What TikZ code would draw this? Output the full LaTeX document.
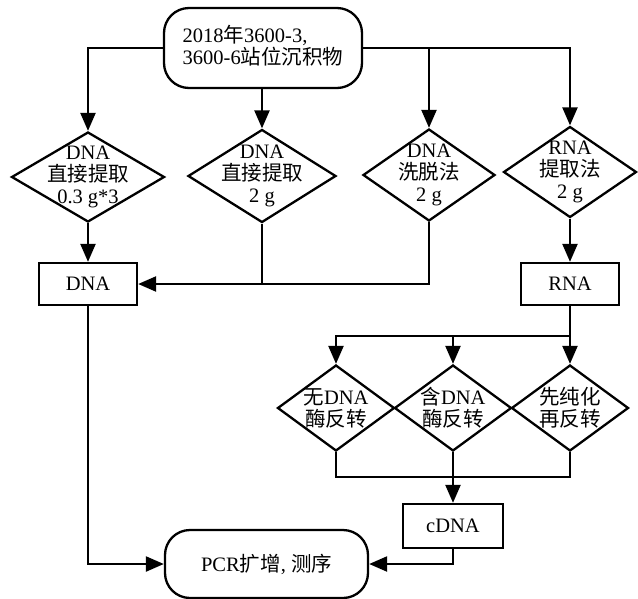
\documentclass[tikz,border=0pt]{standalone}
\usepackage{fontspec}
\setmainfont{Liberation Serif}
\newfontfamily\cjk{Noto Sans CJK SC}
\usetikzlibrary{shapes.geometric,arrows.meta}
\begin{document}
\begin{tikzpicture}[x=1pt,y=-1pt,
  line width=2.3pt,
  every node/.style={font=\fontsize{20.5}{22}\selectfont},
  term/.style={draw, rectangle, rounded corners=25pt, inner sep=0pt},
  box/.style={draw, rectangle, minimum width=98pt, minimum height=42pt, inner sep=0pt},
  dia/.style={draw, diamond, inner sep=0pt},
  lbl/.style={align=center, inner sep=0pt},
  arr/.style={-{Triangle[length=18pt,width=15pt]}}]
\path[use as bounding box] (0,0) rectangle (638,598);
% top terminal
\node[term, minimum width=198pt, minimum height=80pt] (top) at (263,48)
  {\begin{tabular}{@{}l@{}}2018{\cjk 年}3600-3,\\[-2pt]3600-6{\cjk 站位沉积物}\end{tabular}};
% first row diamonds
\node[dia, minimum width=153pt, minimum height=90pt] (d1) at (88,177) {};
\node[lbl] (t1) at (d1) {DNA\\{\cjk 直接提取}\\0.3 g*3};
\node[dia, minimum width=148pt, minimum height=93pt] (d2) at (262,176) {};
\node[lbl] (t2) at (d2) {DNA\\{\cjk 直接提取}\\2 g};
\node[dia, minimum width=132pt, minimum height=92pt] (d3) at (429,175) {};
\node[lbl] (t3) at (d3) {DNA\\{\cjk 洗脱法}\\2 g};
\node[dia, minimum width=133pt, minimum height=91pt] (d4) at (570,172) {};
\node[lbl] (t4) at (d4) {RNA\\{\cjk 提取法}\\2 g};
% boxes
\node[box] (dna) at (88,284) {DNA};
\node[box] (rna) at (570,284) {RNA};
% second row diamonds
\node[dia, minimum width=117pt, minimum height=86pt] (d5) at (336,408) {};
\node[lbl] (t5) at (d5) {{\cjk 无}DNA\\{\cjk 酶反转}};
\node[dia, minimum width=117pt, minimum height=86pt] (d6) at (453,408) {};
\node[lbl] (t6) at (d6) {{\cjk 含}DNA\\{\cjk 酶反转}};
\node[dia, minimum width=117pt, minimum height=86pt] (d7) at (570,408) {};
\node[lbl] (t7) at (d7) {{\cjk 先纯化}\\{\cjk 再反转}};
% cDNA and PCR
\node[box, minimum width=100pt, minimum height=44pt] (cdna) at (453,526) {cDNA};
\node[term, minimum width=203pt, minimum height=68pt] (pcr) at (266.5,564) {PCR{\cjk 扩增}, {\cjk 测序}};
% coordinates
\coordinate (rb) at (570,336);
\coordinate (cb) at (453,477);
% connectors
\draw[arr] (top.west) -| (d1.north);
\draw[arr] (top.south -| d2.north) -- (d2.north);
\draw[arr] (top.east) -| (d4.north);
\draw[arr] (top.east -| d3.north) -- (d3.north);
\draw[arr] (d1.south) -- (dna.north);
\draw[arr] (d3.south) |- (dna.east);
\draw (d2.south) -- (d2.south |- dna.east);
\draw[arr] (d4.south) -- (rna.north);
\draw[arr] (rna.south) -- (d7.north);
\draw[arr] (rb) -| (d5.north);
\draw[arr] (rb -| d6.north) -- (d6.north);
\draw (d5.south) |- (cb);
\draw (d7.south) |- (cb);
\draw[arr] (d6.south) -- (cdna.north);
\draw[arr] (cdna.south) |- (pcr.east);
\draw[arr] (dna.south) |- (pcr.west);
\end{tikzpicture}
\end{document}
